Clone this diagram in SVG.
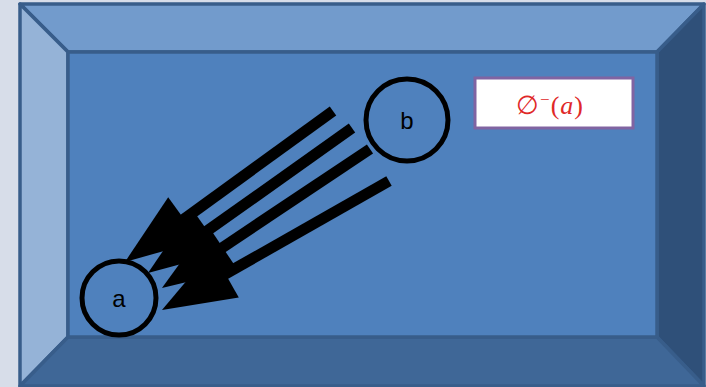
<svg xmlns="http://www.w3.org/2000/svg" width="706" height="387" viewBox="0 0 706 387">
  <style>
    .face { stroke: #385d8a; stroke-width: 3.5; stroke-linejoin: round; }
    .node { fill: none; stroke: #000; stroke-width: 5; }
    .lbl { font-family: "Liberation Sans", Arial, sans-serif; font-size: 24px; fill: #000; text-anchor: middle; }
    .shaft { stroke: #000; stroke-width: 11; stroke-linecap: butt; fill: none; marker-end: url(#head); }
    .math { font-family: "Liberation Serif", "DejaVu Serif", serif; font-size: 26px; fill: #e02828; }
  </style>
  <defs>
    <marker id="head" markerUnits="userSpaceOnUse" markerWidth="80" markerHeight="60" refX="5" refY="27" orient="auto" overflow="visible">
      <path d="M0,0 L73,27 L0,54 Z" fill="#000"/>
    </marker>
  </defs>

  <!-- page background -->
  <rect x="0" y="0" width="706" height="387" fill="#d7dde9"/>

  <!-- bevelled frame -->
  <g id="frame">
    <polygon class="face" points="20,4 704,4 657,52 68,52" fill="#729bcc"/>
    <polygon class="face" points="20,4 68,52 68,337 20,386" fill="#95b3d7"/>
    <polygon class="face" points="704,4 704,386 657,337 657,52" fill="#2f5079"/>
    <polygon class="face" points="20,386 68,337 657,337 704,386" fill="#3f6797"/>
    <rect class="face" x="68" y="52" width="589" height="285" fill="#4f81bd"/>
  </g>

  <!-- connectors -->
  <g id="connectors">
    <line class="shaft" x1="333" y1="111" x2="180" y2="222"/>
    <line class="shaft" x1="352" y1="128" x2="203.4" y2="233.6"/>
    <line class="shaft" x1="370" y1="149" x2="218.5" y2="250.2"/>
    <line class="shaft" x1="389" y1="181" x2="221.1" y2="276.4"/>
  </g>

  <g id="node-b">
    <circle class="node" cx="407" cy="120" r="41"/>
    <text class="lbl" x="407" y="129">b</text>
  </g>

  <g id="node-a">
    <circle class="node" cx="119" cy="298" r="37"/>
    <text class="lbl" x="119" y="307">a</text>
  </g>

  <g id="label-box">
    <rect x="475" y="78" width="158" height="50" fill="#ffffff" stroke="#8064a2" stroke-width="3"/>
    <text class="math" x="550" y="114" text-anchor="middle" letter-spacing="1">∅<tspan dy="-9" font-size="17">−</tspan><tspan dy="9">(</tspan><tspan font-style="italic">a</tspan>)</text>
  </g>
</svg>
